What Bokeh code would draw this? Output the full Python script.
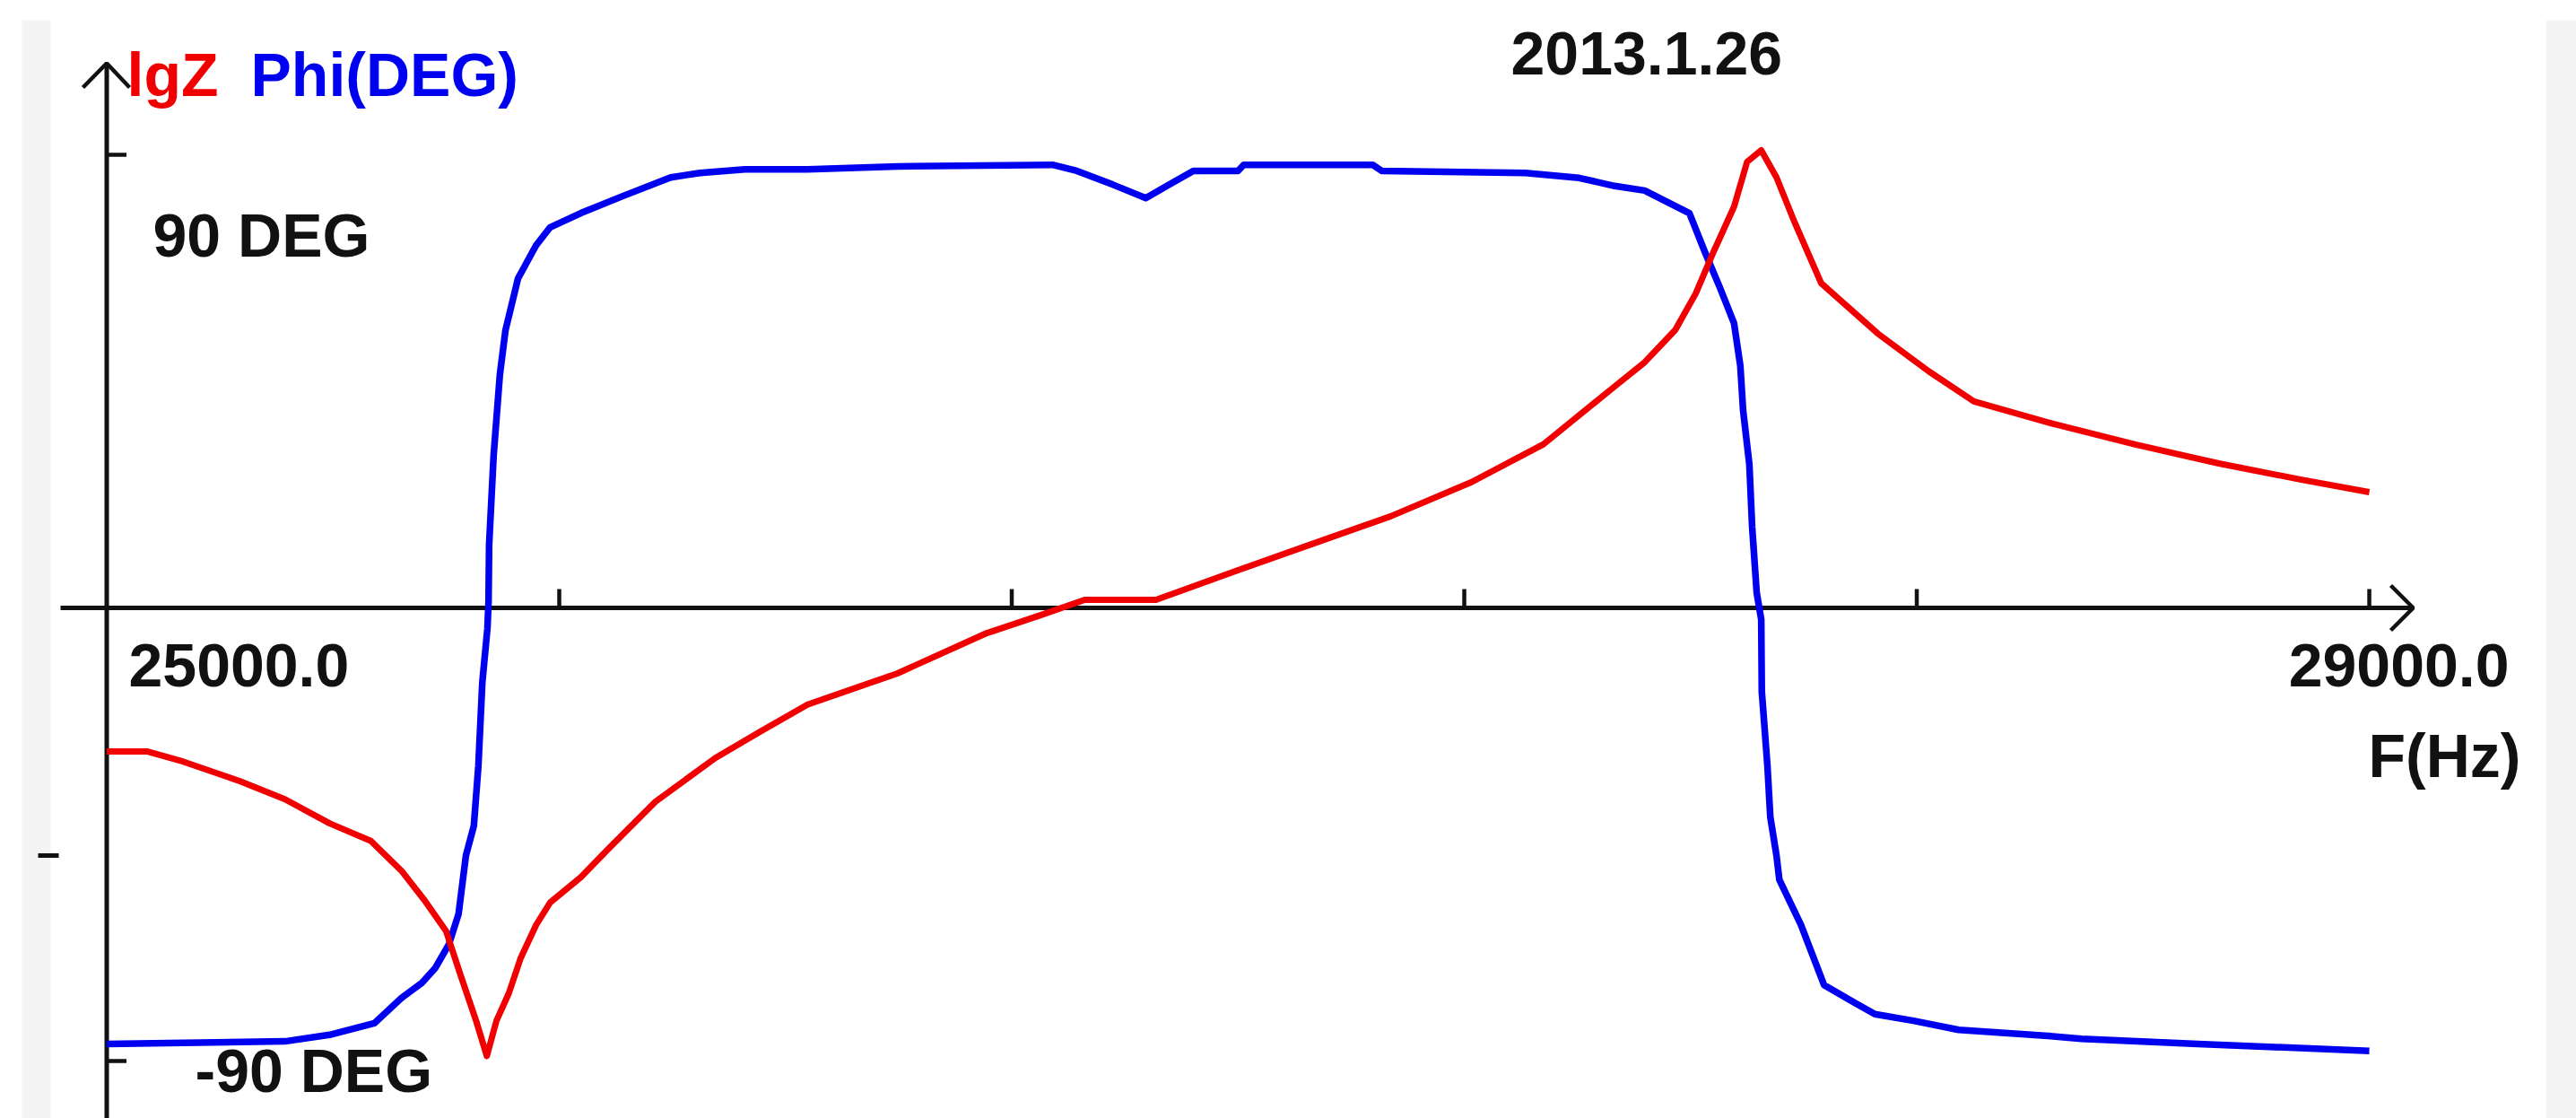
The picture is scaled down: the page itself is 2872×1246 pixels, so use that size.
from bokeh.plotting import figure
from bokeh.models import Label, Range1d
from bokeh.embed import file_html
from bokeh.resources import INLINE

# ---------------- data ----------------
phase_freq = [25000, 25315, 25394, 25473, 25521, 25557, 25581, 25605, 25622, 25635,
              25649, 25657, 25664, 25673, 25675, 25676, 25684, 25695, 25705, 25727,
              25759, 25784, 25838, 25917, 25997, 26049, 26128, 26239, 26398, 26672,
              26715, 26778, 26837, 26874, 26921, 27000, 27010, 27238, 27254, 27508,
              27603, 27666, 27719, 27798, 27825, 27852, 27877, 27888, 27893, 27904,
              27909, 27917, 27925, 27926, 27936, 27941, 27952, 27957, 27995, 28036,
              28090, 28126, 28194, 28274, 28432, 28491, 28697, 29000]
phase_deg = [-86.6, -86.1, -84.8, -82.5, -77.5, -74.5, -71.5, -66.8, -60.8, -49.2,
             -43.3, -31.4, -14.8, -4.1, 1.2, 12.5, 30.3, 46.3, 55.2, 65.4,
             72.0, 75.6, 78.4, 82.0, 85.5, 86.4, 87.1, 87.1, 87.7, 88.0,
             86.8, 84.1, 81.4, 83.8, 86.8, 86.8, 88.0, 88.0, 86.8, 86.4,
             85.4, 83.8, 82.9, 78.4, 70.8, 63.6, 56.5, 48.1, 39.2, 28.5,
             16.0, 3.0, -2.3, -16.6, -31.4, -41.5, -49.2, -54.0, -62.9, -74.9,
             -78.4, -80.7, -82.0, -83.8, -85.0, -85.6, -86.6, -88.0]

lgz_freq = [25000, 25071, 25129, 25235, 25315, 25394, 25467, 25521, 25562, 25600,
            25626, 25653, 25672, 25689, 25711, 25732, 25759, 25784, 25838, 25890,
            25970, 26076, 26155, 26239, 26398, 26556, 26652, 26729, 26855, 27000,
            27126, 27270, 27413, 27540, 27666, 27719, 27773, 27809, 27841, 27877,
            27900, 27925, 27952, 27984, 28031, 28131, 28221, 28301, 28443, 28588,
            28734, 28878, 29000]
lgz_rel = [-28.5, -28.5, -30.3, -34.4, -38.0, -42.8, -46.3, -52.2, -58.1, -64.2,
           -73.1, -82.0, -89.0, -82.0, -76.5, -69.5, -63.0, -58.5, -53.5, -47.5,
           -38.5, -29.8, -24.6, -19.2, -13.0, -5.0, -1.4, 1.6, 1.6, 7.5,
           12.5, 18.2, 25.0, 32.5, 44.0, 48.8, 55.2, 62.4, 70.8, 79.7,
           88.6, 90.9, 85.5, 76.6, 64.5, 54.5, 47.0, 41.0, 36.5, 32.4,
           28.7, 25.5, 23.0]

f_min, f_max = 25000, 29000
x_ticks = [25800, 26600, 27400, 28200, 29000]
y_ticks = [90, -90]
x_min_label = "25000.0"
x_max_label = "29000.0"
x_title = "F(Hz)"
y_title_1 = "lgZ"
y_title_2 = "Phi(DEG)"
y_top_label = "90 DEG"
y_bottom_label = "-90 DEG"
date_label = "2013.1.26"

# ---------------- layout ----------------
W, H = 2872, 1246
MARGIN = 0
PX_F0 = 118.5          # page x of f_min
HZ_PER_PX = 1.5857
PY_ZERO = 677.0        # page y of 0 deg
DEG_PER_PX = 0.17822
TEXT_SHIFT = 26        # baseline correction, px

def hz(px):
    return f_min + (px - PX_F0) * HZ_PER_PX

def dg(py):
    return (PY_ZERO - py) * DEG_PER_PX

RED = "#f00000"
BLUE = "#0000f0"
BLACK = "#111111"
FONT = "Liberation Sans"
FS = "68px"

p = figure(width=W, height=H, output_backend="svg", toolbar_location=None,
           x_range=Range1d(hz(MARGIN), hz(MARGIN + W)),
           y_range=Range1d(dg(MARGIN + H), dg(MARGIN)),
           min_border=0, outline_line_color=None, background_fill_color="white",
           border_fill_color="white")
p.axis.visible = False
p.xgrid.visible = False
p.ygrid.visible = False

# faint scan bands at both edges
p.quad(left=[hz(24), hz(2838)], right=[hz(56), hz(2872)],
       bottom=[dg(1246), dg(1246)], top=[dg(22), dg(22)],
       fill_color="#f4f4f4", line_color=None)

# axes
p.segment(x0=[hz(67)], y0=[0], x1=[hz(2690)], y1=[0], line_color=BLACK, line_width=5)
p.segment(x0=[f_min], y0=[dg(70)], x1=[f_min], y1=[dg(1250)], line_color=BLACK, line_width=5)
# arrow heads
p.line(x=[hz(2665), hz(2690), hz(2665)], y=[dg(652), 0, dg(702)], line_color=BLACK, line_width=4.5)
p.line(x=[hz(92), f_min, hz(144)], y=[dg(97), dg(70), dg(97)], line_color=BLACK, line_width=4.5)
# x ticks
tick_h = 21 * DEG_PER_PX
p.segment(x0=x_ticks, y0=[0] * len(x_ticks), x1=x_ticks, y1=[tick_h] * len(x_ticks),
          line_color=BLACK, line_width=4.5)
# y ticks
tick_w = 22 * HZ_PER_PX
p.segment(x0=[f_min] * len(y_ticks), y0=y_ticks, x1=[f_min + tick_w] * len(y_ticks), y1=y_ticks,
          line_color=BLACK, line_width=4.5)
# stray mark at left
p.segment(x0=[hz(42)], y0=[dg(953)], x1=[hz(65)], y1=[dg(953)], line_color=BLACK, line_width=5)

# curves
p.line(x=phase_freq, y=phase_deg, line_color=BLUE, line_width=7.5, line_join="round")
p.line(x=lgz_freq, y=lgz_rel, line_color=RED, line_width=7, line_join="round")

def lab(text, px, py, color=BLACK, align="left"):
    p.add_layout(Label(x=hz(px), y=dg(py - TEXT_SHIFT), text=text, text_color=color,
                       text_font=FONT, text_font_size=FS, text_font_style="bold",
                       text_align=align, text_baseline="alphabetic"))

lab(y_title_1, 141, 108, RED)
lab(y_title_2, 279, 108, BLUE)
lab(y_top_label, 170, 287)
lab(y_bottom_label, 217, 1218)
lab(x_min_label, 143, 767)
lab(x_max_label, 2797, 767, align="right")
lab(x_title, 2810, 867, align="right")
lab(date_label, 1684, 85)

open("out.html", "w").write(file_html(p, INLINE))
